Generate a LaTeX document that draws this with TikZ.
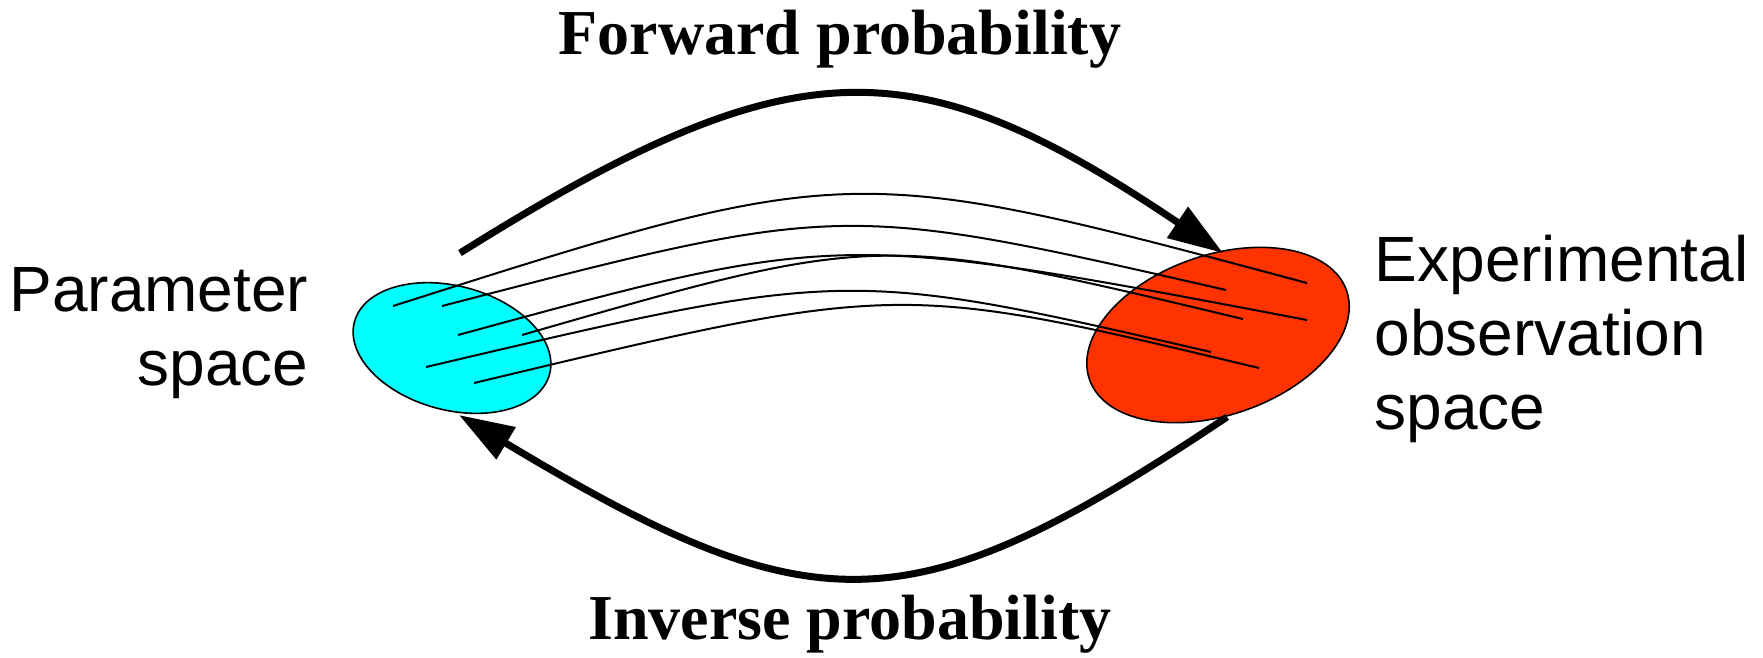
\documentclass[tikz,border=0pt]{standalone}
\usepackage{fontspec}
\setmainfont{Liberation Serif}
\setsansfont{Liberation Sans}
\usetikzlibrary{shapes.geometric,arrows.meta}
\definecolor{bleuciel}{RGB}{0,255,255}
\definecolor{rougeorange}{RGB}{255,51,0}
\begin{document}
\begin{tikzpicture}[x=0.25pt,y=-0.25pt]
	% Styles
	\tikzstyle{espace}=[ellipse,draw=black,line width=0.4pt,inner sep=0pt]
	\tikzstyle{fleche}=[-{Triangle[length=13.75pt,width=9pt]},line width=1.75pt]
	\tikzstyle{trait}=[line width=0.5pt]
	\tikzstyle{titre}=[font=\fontsize{16}{19}\selectfont\bfseries,anchor=base]
	\tikzstyle{legende}=[font=\sffamily\fontsize{16}{18.5}\selectfont,inner sep=0pt]
	% Cadre
	\useasboundingbox (0,0) rectangle (1763,657);
	% Noeuds
	\node[espace,fill=bleuciel,minimum width=50.5pt,minimum height=31pt,rotate=-15] (param) at (452,348) {};
	\node[espace,fill=rougeorange,minimum width=68pt,minimum height=40pt,rotate=19] (obs) at (1218,335) {};
	\node[titre] (avant) at (840,54) {Forward probability};
	\node[titre] (inverse) at (850,639) {Inverse probability};
	\node[legende,anchor=north east,align=right] (parametres) at (309,267) {Parameter\\space};
	\node[legende,anchor=north west,align=left] (observations) at (1374,234) {Experimental\\observation\\space};
	% Extremites
	\coordinate (p1) at (393,306);
	\coordinate (p2) at (442,306);
	\coordinate (p3) at (458,335);
	\coordinate (p4) at (522,335);
	\coordinate (p5) at (426,367);
	\coordinate (p6) at (474,383);
	\coordinate (o1) at (1307,283);
	\coordinate (o2) at (1226,290);
	\coordinate (o3) at (1307,320);
	\coordinate (o4) at (1243,319);
	\coordinate (o5) at (1211,352);
	\coordinate (o6) at (1259,368);
	\coordinate (hautparam) at (460,253);
	\coordinate (hautobs) at (1223,253);
	\coordinate (basobs) at (1227,417);
	\coordinate (basparam) at (459,415);
	% Arcs
	\draw[trait] (p1) .. controls (850,160.5) .. (o1);
	\draw[trait] (p2) .. controls (842,202) .. (o2);
	\draw[trait] (p3) .. controls (839,231) .. (o3);
	\draw[trait] (p4) .. controls (879,232) .. (o4);
	\draw[trait] (p5) .. controls (847,268) .. (o5);
	\draw[trait] (p6) .. controls (898,281.5) .. (o6);
	\draw[fleche] (hautparam) .. controls (794,44) and (913,44) .. (hautobs);
	\draw[fleche] (basobs) .. controls (910,629) and (815,629) .. (basparam);
\end{tikzpicture}
\end{document}
